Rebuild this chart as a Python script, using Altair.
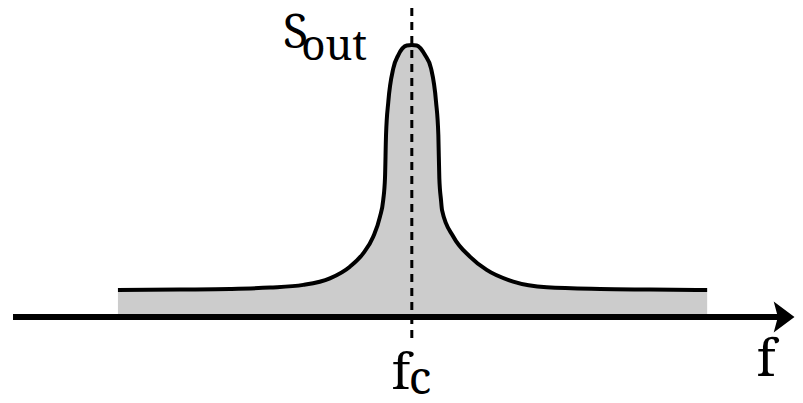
import altair as alt
import pandas as pd

# Spectrum profile (frequency offset from f_c, relative power)
freq = [-99.7, -78.7, -61.7, -48.1, -36.8, -27.8, -21.0, -16.5, -13.1, -10.8, -9.7, -9.1,
        -8.75, -7.97, -6.28, -4.58, -1.73, 0.0, 1.66, 4.48, 6.52, 8.21, 9.0, 9.33, 9.9,
        10.25, 14.1, 19.7, 25.4, 34.4, 45.8, 63.9, 80.8, 100.2]
power = [0.099, 0.101, 0.103, 0.108, 0.118, 0.142, 0.185, 0.234, 0.295, 0.369, 0.430, 0.511,
         0.669, 0.792, 0.914, 0.963, 0.998, 1.0, 0.998, 0.963, 0.914, 0.792, 0.669, 0.511, 0.430,
         0.393, 0.295, 0.222, 0.173, 0.130, 0.109, 0.103, 0.101, 0.099]

labels = ["S", "out", "f", "c", "f"]

df = pd.DataFrame({"f": freq, "p": power})

xs = alt.Scale(domain=[-137.0, 130.0], nice=False, zero=False)
ys = alt.Scale(domain=[-0.2868, 1.136], nice=False, zero=False)
FONT = "Noto Serif"

base = alt.Chart(df)
area = base.mark_area(color="#cccccc", interpolate="monotone").encode(
    x=alt.X("f:Q", scale=xs, axis=None), y=alt.Y("p:Q", scale=ys, axis=None), y2=alt.datum(0))
line = base.mark_line(color="black", strokeWidth=4, interpolate="monotone").encode(
    x=alt.X("f:Q", scale=xs, axis=None), y=alt.Y("p:Q", scale=ys, axis=None))

dash = alt.Chart().mark_rule(color="black", strokeWidth=3, strokeDash=[8, 6]).encode(
    x=alt.datum(0, scale=xs), y=alt.datum(1.136, scale=ys), y2=alt.datum(-0.085))

axis_line = alt.Chart().mark_rule(color="black", strokeWidth=6).encode(
    x=alt.datum(-135.3, scale=xs), x2=alt.datum(126.0), y=alt.datum(0, scale=ys))

arrow = alt.Chart().mark_point(
    shape="M 0.67 0 L -0.67 -1 L -0.4 0 L -0.67 1 Z", size=961,
    filled=True, color="black", opacity=1, strokeWidth=0).encode(
    x=alt.datum(126.3, scale=xs), y=alt.datum(0, scale=ys))

def txt(t, u, v, size):
    return alt.Chart().mark_text(text=t, font=FONT, fontSize=size, align="left",
                                 baseline="alphabetic", color="black").encode(
        x=alt.datum(u, scale=xs), y=alt.datum(v, scale=ys))

texts = [
    txt(labels[0], -43.8, 0.989, 47),
    txt(labels[1], -37.5, 0.945, 42),
    txt(labels[2], -6.8, -0.265, 50),
    txt(labels[3], -1.0, -0.284, 46),
    txt(labels[4], 117.0, -0.217, 51),
]

chart = alt.layer(area, line, dash, axis_line, arrow, *texts).properties(
    width=787, height=387, padding=0,
    autosize=alt.AutoSizeParams(type="none"),
    background="white",
).configure_view(stroke=None)

chart.save("out.html", embed_options={"renderer": "svg", "actions": False})
